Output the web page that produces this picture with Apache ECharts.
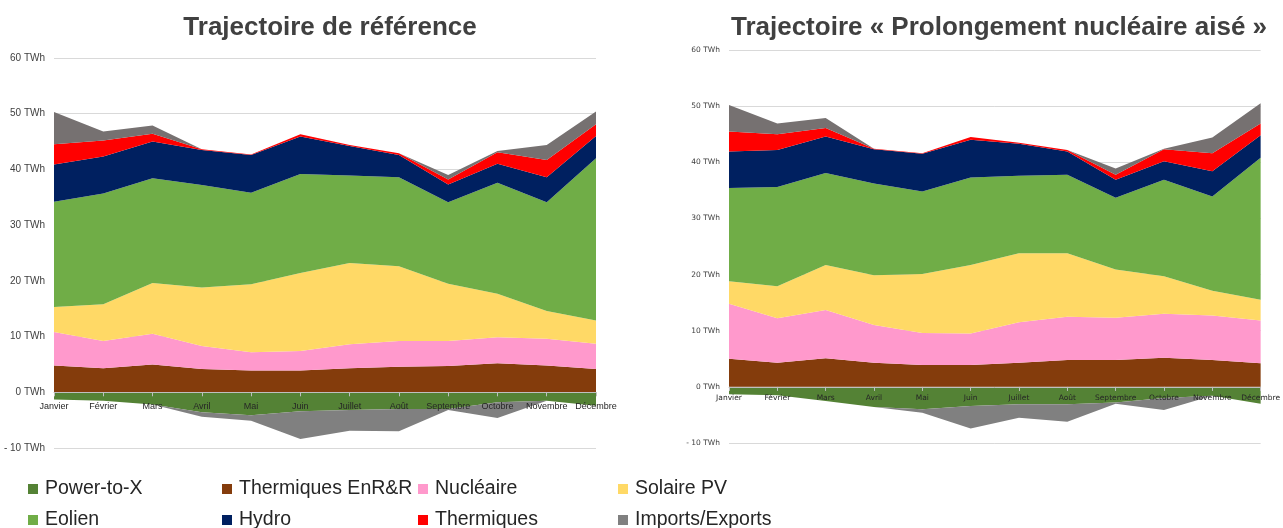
<!DOCTYPE html>
<html>
<head>
<meta charset="utf-8">
<title>Trajectoires</title>
<script src="https://cdn.jsdelivr.net/npm/echarts@6/dist/echarts.min.js"></script>
<style>
	html, body { margin: 0; padding: 0; background: #fff; }
	#chart { width: 1283px; height: 528px; }
</style>
</head>
<body>
<div id="chart"></div>
<script>
	var months = ['Janvier', 'Février', 'Mars', 'Avril', 'Mai', 'Juin', 'Juillet', 'Août', 'Septembre', 'Octobre', 'Novembre', 'Décembre'];
	var legendNames = ['Power-to-X', 'Thermiques EnR&R', 'Nucléaire', 'Solaire PV', 'Eolien', 'Hydro', 'Thermiques', 'Imports/Exports'];

	/* Trajectoire de référence (TWh) */
	var refP2X = [-1.3, -1.5, -2.2, -3.6, -4.1, -3.4, -3.2, -3.0, -3.0, -1.8, -1.5, -2.4];
	var refThermEnr = [4.8, 4.3, 5.0, 4.2, 3.9, 3.9, 4.3, 4.6, 4.7, 5.2, 4.8, 4.2];
	var refNucleaire = [6.0, 4.9, 5.5, 4.1, 3.3, 3.5, 4.3, 4.6, 4.5, 4.7, 4.8, 4.5];
	var refSolaire = [4.5, 6.6, 9.1, 10.5, 12.2, 14.0, 14.6, 13.4, 10.3, 7.8, 5.0, 4.2];
	var refEolien = [18.9, 19.9, 18.8, 18.4, 16.4, 17.8, 15.7, 16.0, 14.6, 19.9, 19.5, 29.1];
	var refHydro = [6.7, 6.6, 6.6, 6.3, 6.8, 6.7, 5.3, 4.0, 3.2, 3.4, 4.5, 4.0];
	var refThermiques = [3.6, 2.9, 1.4, 0.1, 0.1, 0.4, 0.2, 0.3, 0.9, 2.1, 3.1, 2.1];
	var refImports = [5.8, 1.6, 1.5, 0, 0, 0, 0, 0, 0.8, 0.2, 2.7, 2.3];
	var refExports = [0, 0, 0, -0.8, -1.0, -5.0, -3.7, -4.0, -0.2, -2.8, 0, 0];

	/* Trajectoire « Prolongement nucléaire aisé » (TWh) */
	var nucP2X = [-1.3, -1.5, -2.5, -3.6, -4.0, -3.4, -3.1, -3.1, -2.8, -2.0, -1.6, -3.0];
	var nucThermEnr = [5.0, 4.3, 5.1, 4.3, 3.9, 3.9, 4.3, 4.8, 4.8, 5.2, 4.8, 4.2];
	var nucNucleaire = [9.8, 7.9, 8.6, 6.7, 5.7, 5.6, 7.2, 7.7, 7.5, 7.8, 7.9, 7.6];
	var nucSolaire = [4.0, 5.7, 8.0, 8.9, 10.5, 12.2, 12.3, 11.3, 8.6, 6.7, 4.4, 3.7];
	var nucEolien = [16.6, 17.7, 16.4, 16.3, 14.7, 15.6, 13.8, 14.0, 12.8, 17.2, 16.8, 25.3];
	var nucHydro = [6.5, 6.6, 6.5, 6.1, 6.7, 6.7, 5.7, 4.1, 3.2, 3.3, 4.5, 4.0];
	var nucThermiques = [3.6, 2.8, 1.5, 0.1, 0.1, 0.5, 0.2, 0.3, 0.9, 2.1, 3.2, 2.1];
	var nucImports = [4.7, 1.9, 1.8, 0, 0, 0, 0, 0, 1.1, 0.1, 2.8, 3.6];
	var nucExports = [0, 0, 0, 0, -0.6, -4.0, -2.4, -3.1, -0.2, -2.1, 0, 0];

	var colors = {
		'Power-to-X': '#548235',
		'Thermiques EnR&R': '#843c0c',
		'Nucléaire': '#ff99cc',
		'Solaire PV': '#ffd966',
		'Eolien': '#70ad47',
		'Hydro': '#002060',
		'Thermiques': '#ff0000',
		'Imports/Exports': '#767171'
	};

	function areaSeries(name, data, idx, stack, color) {
		return {
			name: name,
			type: 'line',
			xAxisIndex: idx,
			yAxisIndex: idx,
			stack: stack,
			stackStrategy: 'all',
			data: data,
			showSymbol: false,
			symbol: 'none',
			lineStyle: { width: 0 },
			areaStyle: { color: color || colors[name], opacity: 1 },
			itemStyle: { color: color || colors[name] },
			z: 2
		};
	}

	function createSeries(idx, d) {
		var pos = 'pos' + idx, neg = 'neg' + idx;
		return [
			areaSeries('Power-to-X', d.p2x, idx, neg),
			areaSeries('Imports/Exports', d.exp, idx, neg, '#808080'),
			areaSeries('Thermiques EnR&R', d.thermEnr, idx, pos),
			areaSeries('Nucléaire', d.nuc, idx, pos),
			areaSeries('Solaire PV', d.sol, idx, pos),
			areaSeries('Eolien', d.eol, idx, pos),
			areaSeries('Hydro', d.hyd, idx, pos),
			areaSeries('Thermiques', d.therm, idx, pos),
			areaSeries('Imports/Exports', d.imp, idx, pos)
		];
	}

	function yAxis(idx, font, size) {
		return {
			type: 'value',
			gridIndex: idx,
			min: -10,
			max: 60,
			interval: 10,
			axisLine: { show: false },
			axisTick: { show: false },
			splitLine: { lineStyle: { color: '#d9d9d9', width: 1 } },
			axisLabel: {
				margin: 9,
				fontFamily: font,
				fontSize: size,
				color: '#404040',
				formatter: function(v) {
					return v < 0 ? '- ' + Math.abs(v) + ' TWh' : v + ' TWh';
				}
			}
		};
	}

	// axe des mois remonté sur la ligne du zéro (offset = hauteur de 10 TWh)
	function xAxis(idx, font, size, offset, margin) {
		return {
			type: 'category',
			gridIndex: idx,
			data: months,
			boundaryGap: false,
			offset: offset,
			z: 5,
			axisLine: { onZero: false, lineStyle: { color: '#bfbfbf', width: 1 } },
			axisTick: { show: true, length: 4, alignWithLabel: true, lineStyle: { color: '#bfbfbf' } },
			axisLabel: {
				interval: 0,
				margin: margin,
				fontFamily: font,
				fontSize: size,
				color: '#262626'
			}
		};
	}

	var legendPos = [[28, 479], [222, 479], [418, 479], [618, 479], [28, 510], [222, 510], [418, 510], [618, 510]];
	var legends = [];
	for (var i = 0; i < legendNames.length; i++) {
		legends.push({
			left: legendPos[i][0],
			top: legendPos[i][1],
			padding: 0,
			data: [legendNames[i]],
			icon: 'rect',
			itemWidth: 10,
			itemHeight: 10,
			itemGap: 0,
			textStyle: {
				fontFamily: 'Liberation Sans',
				fontSize: 19.5,
				color: '#262626',
				padding: [0, 0, 0, 2]
			}
		});
	}

	var option = {
		backgroundColor: '#ffffff',
		animation: false,
		title: [{
			text: 'Trajectoire de référence',
			left: 325,
			top: 10,
			textAlign: 'center',
			textStyle: { fontFamily: 'Liberation Sans', fontSize: 26, fontWeight: 'bold', color: '#404040' }
		}, {
			text: 'Trajectoire « Prolongement nucléaire aisé »',
			left: 994,
			top: 10,
			textAlign: 'center',
			textStyle: { fontFamily: 'Liberation Sans', fontSize: 26, fontWeight: 'bold', color: '#404040' }
		}],
		legend: legends,
		grid: [
			{ left: 54, right: 687, top: 58, bottom: 80 },
			{ left: 729, right: 21, top: 50, bottom: 85 }
		],
		xAxis: [
			xAxis(0, 'Liberation Sans', 9, -55.7, 10),
			xAxis(1, 'DejaVu Sans', 7.5, -56.1, 7)
		],
		yAxis: [
			yAxis(0, 'Liberation Sans', 10),
			yAxis(1, 'DejaVu Sans', 7.5)
		],
		series: createSeries(0, {
			p2x: refP2X, exp: refExports, thermEnr: refThermEnr, nuc: refNucleaire, sol: refSolaire,
			eol: refEolien, hyd: refHydro, therm: refThermiques, imp: refImports
		}).concat(createSeries(1, {
			p2x: nucP2X, exp: nucExports, thermEnr: nucThermEnr, nuc: nucNucleaire, sol: nucSolaire,
			eol: nucEolien, hyd: nucHydro, therm: nucThermiques, imp: nucImports
		}))
	};

	var chart = echarts.init(document.getElementById('chart'));
	chart.setOption(option);
</script>
</body>
</html>
